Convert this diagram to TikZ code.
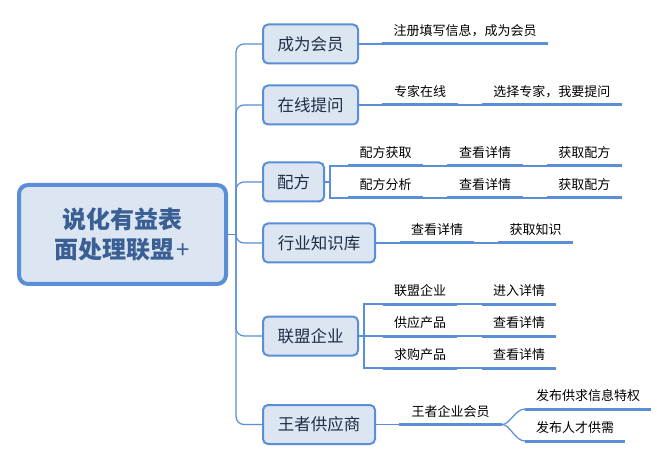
\documentclass[tikz,border=0pt]{standalone}
\usepackage{fontspec}
\newfontfamily\cjk{Noto Sans CJK SC}
\definecolor{lineblue}{HTML}{5A8ED6}
\definecolor{boxfill}{HTML}{DCE6F2}
\definecolor{roottext}{HTML}{3A5F94}
\definecolor{branchtext}{HTML}{1F2D45}
\begin{document}
\begin{tikzpicture}[x=1pt,y=-1pt,
 rootbox/.style={draw=lineblue, line width=4pt, fill=boxfill, rounded corners=9pt, minimum width=207pt, minimum height=99pt, inner sep=0pt, align=center, font=\cjk\bfseries\fontsize{24}{30}\selectfont, text=roottext},
 branchbox/.style={draw=lineblue, line width=2pt, fill=boxfill, rounded corners=5pt, minimum height=39pt, inner sep=0pt, font=\cjk\fontsize{16.5}{18}\selectfont, text=branchtext},
 leaf/.style={minimum height=26pt, inner sep=0pt, anchor=south west, font=\cjk\fontsize{13}{15}\selectfont, text=black},
 conn/.style={draw=lineblue, line width=1.2pt},
 uline/.style={draw=lineblue, line width=3pt},
]
\fill[white] (0,0) rectangle (669,462);
\useasboundingbox (0,0) rectangle (669,462);

% root and branches
\node[rootbox] (root) at (122.5,234.5) {说化有益表\\面处理联盟{\mdseries\hspace{2pt}+}};
\node[branchbox, minimum width=95pt] (b1) at (310.5,44) {成为会员};
\node[branchbox, minimum width=95pt] (b2) at (310.5,105) {在线提问};
\node[branchbox, minimum width=61pt] (b3) at (293.5,182) {配方};
\node[branchbox, minimum width=112pt] (b4) at (319,243) {行业知识库};
\node[branchbox, minimum width=95pt] (b5) at (310.5,336) {联盟企业};
\node[branchbox, minimum width=112pt] (b6) at (319,424.5) {王者供应商};

% leaves
\node[leaf, minimum width=166pt] (L1) at (382,44) {注册填写信息，成为会员};
\node[leaf, minimum width=76pt] (L2a) at (382,105) {专家在线};
\node[leaf, minimum width=140pt] (L2b) at (481.7,105) {选择专家，我要提问};
\node[leaf, minimum width=75pt] (L3a) at (348,166) {配方获取};
\node[leaf, minimum width=75pt] (L3b) at (447.3,166) {查看详情};
\node[leaf, minimum width=75pt] (L3c) at (546.7,166) {获取配方};
\node[leaf, minimum width=75pt] (L3d) at (348,198) {配方分析};
\node[leaf, minimum width=75pt] (L3e) at (447.3,198) {查看详情};
\node[leaf, minimum width=75pt] (L3f) at (546.7,198) {获取配方};
\node[leaf, minimum width=74pt] (L4a) at (400,243) {查看详情};
\node[leaf, minimum width=75pt] (L4b) at (498,243) {获取知识};
\node[leaf, minimum width=74pt] (L5a) at (383,304) {联盟企业};
\node[leaf, minimum width=74.3pt] (L5b) at (481.7,304) {进入详情};
\node[leaf, minimum width=74pt] (L5c) at (383,336) {供应产品};
\node[leaf, minimum width=74.3pt] (L5d) at (481.7,336) {查看详情};
\node[leaf, minimum width=74pt] (L5e) at (383,368) {求购产品};
\node[leaf, minimum width=74.3pt] (L5f) at (481.7,368) {查看详情};
\node[leaf, minimum width=102.7pt] (L6a) at (399,424.5) {王者企业会员};
\node[leaf, minimum width=126pt] (L6b) at (525,409) {发布供求信息特权};
\node[leaf, minimum width=100pt] (L6c) at (525,441) {发布人才供需};

% trunk
\coordinate (tr) at (236,234.5);
\draw[conn] (root.east) -- (tr);
\foreach \b in {b1,b2,b3,b4,b5,b6}
  \draw[conn, rounded corners=8pt] (tr) |- (\b.west);

% branch to leaves
\draw[conn] (b1.east) -- (L1.south west);
\draw[conn] (b2.east) -- (L2a.south west);
\draw[conn] (L2a.south east) -- (L2b.south west);
\draw[conn] (b3.east) -- ++(5,0) coordinate (f3);
\draw[conn] (f3) |- (L3a.south west);
\draw[conn] (f3) |- (L3d.south west);
\draw[conn] (L3a.south east) -- (L3b.south west);
\draw[conn] (L3b.south east) -- (L3c.south west);
\draw[conn] (L3d.south east) -- (L3e.south west);
\draw[conn] (L3e.south east) -- (L3f.south west);
\draw[conn] (b4.east) -- (L4a.south west);
\draw[conn] (L4a.south east) -- (L4b.south west);
\draw[conn] (b5.east) -- ++(5,0) coordinate (f5);
\draw[conn] (f5) |- (L5a.south west);
\draw[conn] (f5) -- (L5c.south west);
\draw[conn] (f5) |- (L5e.south west);
\draw[conn] (L5a.south east) -- (L5b.south west);
\draw[conn] (L5c.south east) -- (L5d.south west);
\draw[conn] (L5e.south east) -- (L5f.south west);
\draw[conn] (b6.east) -- (L6a.south west);
\draw[conn] (L6a.south east) .. controls +(8,0) and +(-10,0) .. (L6b.south west);
\draw[conn] (L6a.south east) .. controls +(8,0) and +(-10,0) .. (L6c.south west);

% underlines
\foreach \n in {L1,L2a,L2b,L3a,L3b,L3c,L3d,L3e,L3f,L4a,L4b,L5a,L5b,L5c,L5d,L5e,L5f,L6a,L6b,L6c}
  \draw[uline] (\n.south west) -- (\n.south east);
\end{tikzpicture}
\end{document}
